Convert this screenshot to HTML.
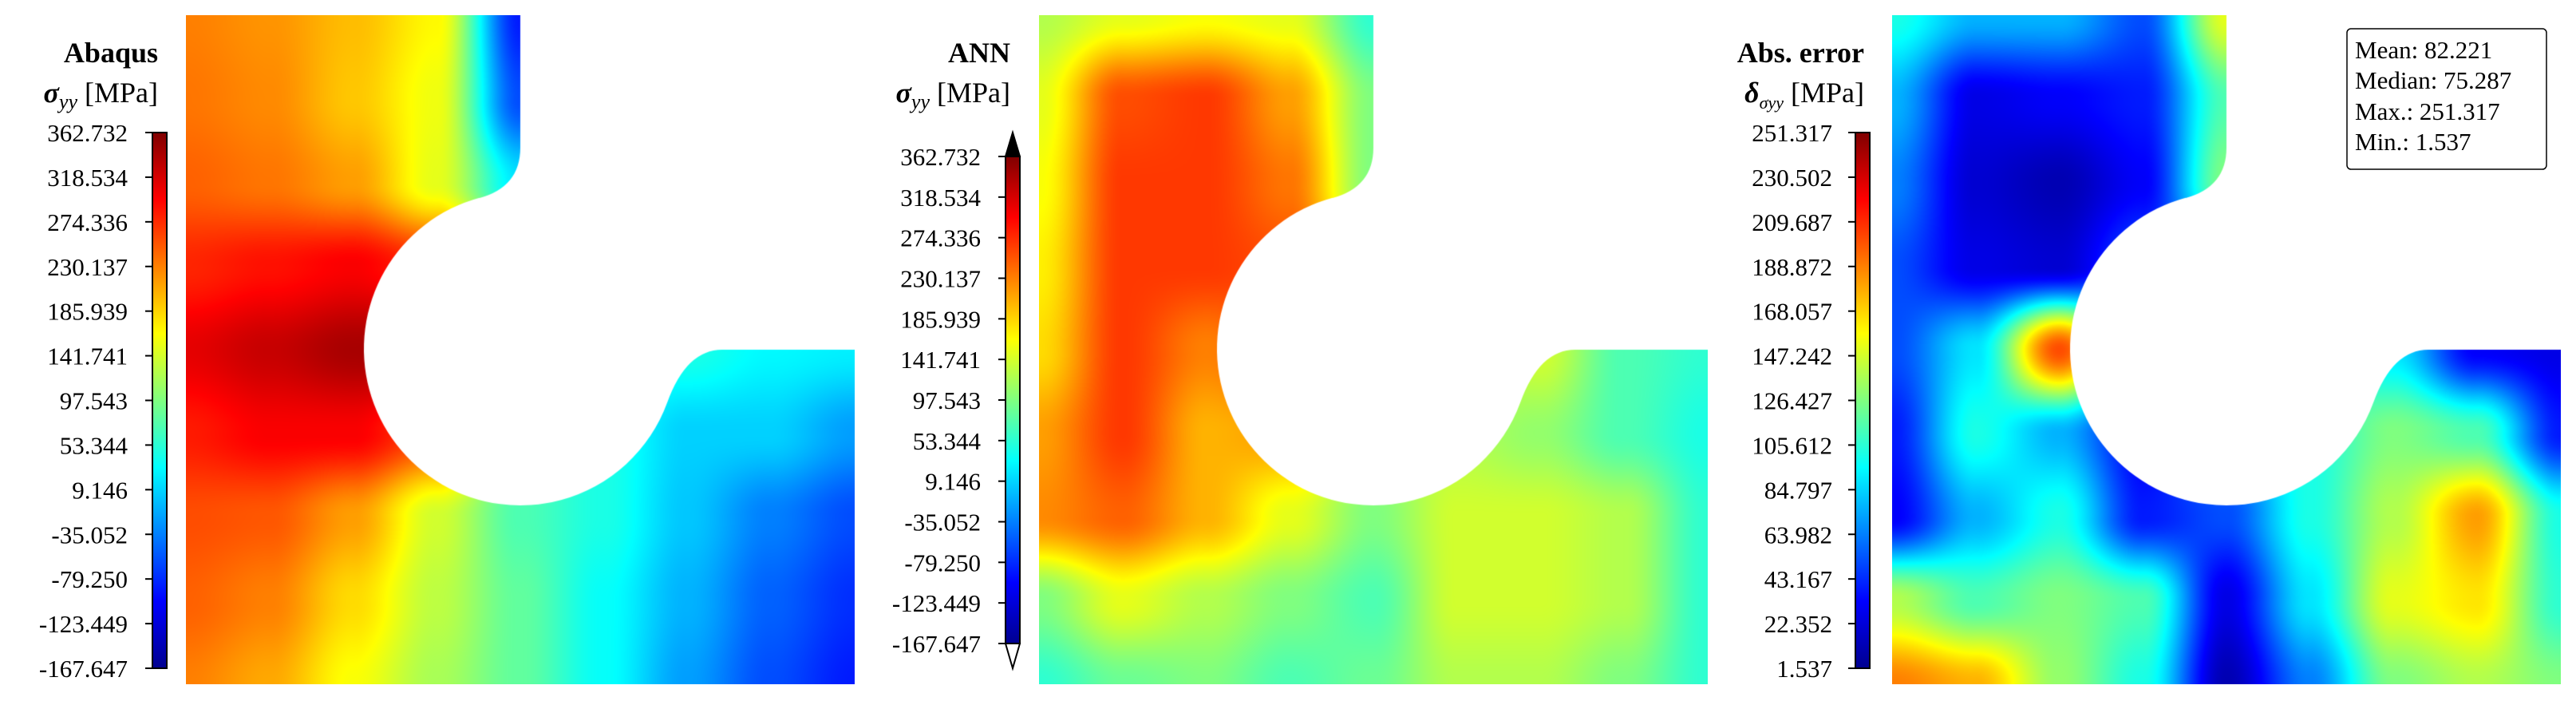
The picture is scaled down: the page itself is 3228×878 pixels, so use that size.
<!DOCTYPE html>
<html><head><meta charset="utf-8"><style>
html,body{margin:0;padding:0;background:#fff;}
#wrap{position:relative;width:3228px;height:878px;overflow:hidden;background:#fff;}
canvas{position:absolute;}
svg{position:absolute;left:0;top:0;}
text{font-family:"Liberation Serif",serif;fill:#000;}
</style></head><body>
<div id="wrap">
<canvas id="c1" width="838" height="838" style="left:233px;top:19px"></canvas>
<canvas id="c2" width="838" height="838" style="left:1302px;top:19px"></canvas>
<canvas id="c3" width="838" height="838" style="left:2371px;top:19px"></canvas>
<svg id="ov" width="3228" height="878">
<defs>
<linearGradient id="jet" x1="0" y1="1" x2="0" y2="0">
<stop offset="0" stop-color="#00008f"/><stop offset="0.125" stop-color="#0000ff"/>
<stop offset="0.375" stop-color="#00ffff"/><stop offset="0.625" stop-color="#ffff00"/>
<stop offset="0.875" stop-color="#ff0000"/><stop offset="1" stop-color="#800000"/>
</linearGradient>
</defs>
<g>
<text x="198" y="78" text-anchor="end" font-size="36" font-weight="bold">Abaqus</text>
<text x="198" y="128" text-anchor="end" font-size="36"><tspan font-style="italic" font-weight="bold">σ</tspan><tspan font-style="italic" font-size="26" dy="8">yy</tspan><tspan dy="-8"> [MPa]</tspan></text>
</g>
<g>
<text x="1266" y="78" text-anchor="end" font-size="36" font-weight="bold">ANN</text>
<text x="1266" y="128" text-anchor="end" font-size="36"><tspan font-style="italic" font-weight="bold">σ</tspan><tspan font-style="italic" font-size="26" dy="8">yy</tspan><tspan dy="-8"> [MPa]</tspan></text>
</g>
<g>
<text x="2336" y="78" text-anchor="end" font-size="36" font-weight="bold">Abs. error</text>
<text x="2336" y="128" text-anchor="end" font-size="36"><tspan font-style="italic" font-weight="bold">δ</tspan><tspan font-style="italic" font-size="22" dy="8">σyy</tspan><tspan dy="-8"> [MPa]</tspan></text>
</g>
<g>
<rect x="2941" y="36" width="250" height="176" rx="5" fill="#fff" stroke="#000" stroke-width="1.5"/>
<text x="2951" y="73" font-size="31">Mean: 82.221</text>
<text x="2951" y="111" font-size="31">Median: 75.287</text>
<text x="2951" y="150" font-size="31">Max.: 251.317</text>
<text x="2951" y="188" font-size="31">Min.: 1.537</text>
</g>
<g id="cb"></g>
</svg>
</div>
<script>
// Field grids (9x9, normalized 0..1 on each panel's colour scale), rows top->bottom
const abaqusGrid = [
[0.75,0.73,0.69,0.63,0.15,0.30,0.30,0.30,0.30],
[0.76,0.74,0.68,0.61,0.20,0.30,0.30,0.30,0.30],
[0.78,0.76,0.72,0.60,0.35,0.35,0.35,0.35,0.35],
[0.84,0.86,0.88,0.83,0.60,0.40,0.40,0.40,0.38],
[0.90,0.93,0.96,0.99,0.50,0.40,0.40,0.37,0.36],
[0.85,0.88,0.88,0.80,0.45,0.40,0.33,0.33,0.28],
[0.80,0.79,0.72,0.58,0.45,0.40,0.32,0.25,0.20],
[0.78,0.75,0.66,0.56,0.47,0.38,0.30,0.22,0.17],
[0.75,0.71,0.62,0.54,0.47,0.38,0.28,0.20,0.15]];
const annGrid = [
[0.55,0.60,0.62,0.60,0.42,0.45,0.45,0.45,0.45],
[0.60,0.80,0.82,0.72,0.50,0.50,0.50,0.50,0.50],
[0.62,0.82,0.82,0.76,0.50,0.50,0.50,0.50,0.50],
[0.64,0.82,0.82,0.80,0.60,0.55,0.55,0.50,0.45],
[0.66,0.82,0.75,0.82,0.60,0.55,0.58,0.45,0.42],
[0.72,0.82,0.70,0.72,0.55,0.55,0.52,0.45,0.40],
[0.74,0.78,0.70,0.60,0.50,0.58,0.58,0.55,0.42],
[0.50,0.60,0.55,0.50,0.45,0.58,0.58,0.55,0.42],
[0.42,0.48,0.50,0.45,0.48,0.55,0.55,0.50,0.42]];
const errorGrid = [
[0.40,0.30,0.30,0.20,0.60,0.30,0.30,0.30,0.30],
[0.30,0.10,0.12,0.15,0.45,0.30,0.30,0.30,0.30],
[0.25,0.08,0.05,0.12,0.50,0.30,0.30,0.30,0.30],
[0.20,0.10,0.08,0.20,0.15,0.30,0.30,0.30,0.30],
[0.20,0.35,0.80,0.30,0.40,0.50,0.35,0.12,0.10],
[0.15,0.40,0.30,0.12,0.30,0.40,0.50,0.45,0.15],
[0.12,0.30,0.40,0.15,0.20,0.40,0.55,0.72,0.40],
[0.55,0.45,0.50,0.45,0.10,0.35,0.60,0.65,0.42],
[0.75,0.70,0.52,0.40,0.05,0.25,0.50,0.55,0.50]];
const stressTicks = ["362.732","318.534","274.336","230.137","185.939","141.741","97.543","53.344","9.146","-35.052","-79.250","-123.449","-167.647"];
const errorTicks = ["251.317","230.502","209.687","188.872","168.057","147.242","126.427","105.612","84.797","63.982","43.167","22.352","1.537"];

function clamp(v){return Math.max(0,Math.min(1,v));}
function jet(v){return [clamp(1.5-Math.abs(4*v-3)),clamp(1.5-Math.abs(4*v-2)),clamp(1.5-Math.abs(4*v-1))];}
function domainPath(){
  const p=new Path2D();
  p.moveTo(0,0);p.lineTo(419,0);p.lineTo(419,166);
  p.quadraticCurveTo(419,215,368,229);
  const a0=Math.atan2(229-418,368-419), a1=Math.atan2(485-418,603-419);
  p.arc(419,418,196,a0,a1,true);
  p.quadraticCurveTo(627,419,672,419);
  p.lineTo(838,419);p.lineTo(838,838);p.lineTo(0,838);p.closePath();
  return p;
}
function drawField(id,grid){
  const cv=document.getElementById(id),ctx=cv.getContext('2d');
  const W=838,H=838,img=ctx.createImageData(W,H),n=grid.length-1;
  for(let y=0;y<H;y++){
    const gy=y/(H-1)*n,iy=Math.min(n-1,Math.floor(gy));let fy=gy-iy;fy=fy*fy*(3-2*fy);
    for(let x=0;x<W;x++){
      const gx=x/(W-1)*n,ix=Math.min(n-1,Math.floor(gx));let fx=gx-ix;fx=fx*fx*(3-2*fx);
      const v=(grid[iy][ix]*(1-fx)+grid[iy][ix+1]*fx)*(1-fy)+(grid[iy+1][ix]*(1-fx)+grid[iy+1][ix+1]*fx)*fy;
      const c=jet(v),k=(y*W+x)*4;
      img.data[k]=c[0]*255;img.data[k+1]=c[1]*255;img.data[k+2]=c[2]*255;img.data[k+3]=255;
    }
  }
  const tmp=document.createElement('canvas');tmp.width=W;tmp.height=H;
  tmp.getContext('2d').putImageData(img,0,0);
  ctx.save();ctx.clip(domainPath());ctx.drawImage(tmp,0,0);ctx.restore();
}
drawField('c1',abaqusGrid);drawField('c2',annGrid);drawField('c3',errorGrid);

const NS="http://www.w3.org/2000/svg";
const cb=document.getElementById('cb');
function mk(tag,attrs,parent){const e=document.createElementNS(NS,tag);for(const k in attrs)e.setAttribute(k,attrs[k]);parent.appendChild(e);return e;}
function colorbar(name,x,y0,y1,ticks,labelX,arrows){
  const g=mk('g',{},cb);
  
  
  const w=18;
  const bar=mk('rect',{x:x,y:y0,width:w,height:y1-y0,fill:'url(#jet)',stroke:'#000','stroke-width':2},g);
  
  
  if(arrows){
    const up=mk('polygon',{points:`${x},${y0} ${x+w},${y0} ${x+w/2},${y0-30}`,fill:'#000',stroke:'#000','stroke-width':2},g);
    
    
    const dn=mk('polygon',{points:`${x},${y1} ${x+w},${y1} ${x+w/2},${y1+31}`,fill:'#fff',stroke:'#000','stroke-width':2},g);
    
    
  }
  const n=ticks.length-1;
  ticks.forEach((t,i)=>{
    const ty=y0+(y1-y0)*i/n;
    const tk=mk('line',{x1:x-9,x2:x,y1:ty,y2:ty,stroke:'#000','stroke-width':2},g);
    
    
    const tl=mk('text',{x:labelX,y:ty+11,'text-anchor':'end','font-size':31},g);
    tl.textContent=t;
    
    
  });
}
colorbar('abaqus-colorbar',191,166,837,stressTicks,160,false);
colorbar('ann-colorbar',1260,196,806,stressTicks,1229,true);
colorbar('error-colorbar',2325,166,837,errorTicks,2296,false);
</script>
</body></html>
